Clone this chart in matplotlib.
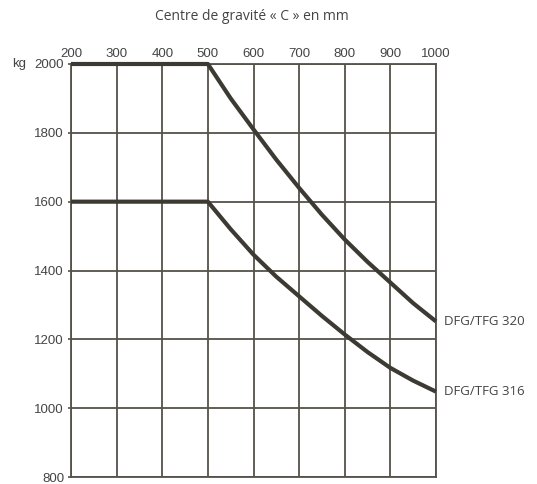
import numpy as np
import matplotlib.pyplot as plt

plt.rcParams['font.family'] = ['Liberation Sans', 'DejaVu Sans']

# Centre de gravité (mm) et capacité (kg)
x_c = [200, 500, 550, 600, 650, 700, 750, 800, 850, 900, 950, 1000]
kg_320 = [2000, 2000, 1900, 1810, 1722, 1640, 1562, 1490, 1425, 1365, 1305, 1252]
kg_316 = [1600, 1600, 1520, 1446, 1382, 1325, 1268, 1214, 1163, 1117, 1080, 1048]

x_ticks = [200, 300, 400, 500, 600, 700, 800, 900, 1000]
y_ticks = [800, 1000, 1200, 1400, 1600, 1800, 2000]

line_col = '#3d3a33'
grid_col = '#55524b'
text_col = '#444444'

fig = plt.figure(figsize=(5.37, 4.84), dpi=100)
ax = fig.add_axes([71 / 537, 1 - 477 / 484, (436 - 71) / 537, (477 - 64) / 484])

ax.plot(x_c, kg_320, color=line_col, lw=3.0, solid_capstyle='butt', clip_on=False, zorder=3)
ax.plot(x_c, kg_316, color=line_col, lw=3.0, solid_capstyle='butt', clip_on=False, zorder=3)

ax.set_xlim(200, 1000)
ax.set_ylim(800, 2000)
ax.set_xticks(x_ticks)
ax.set_yticks(y_ticks)
ax.xaxis.tick_top()
ax.tick_params(axis='x', length=0, pad=3, labelsize=9.5, labelcolor=text_col)
ax.tick_params(axis='y', length=2, width=1.2, color=grid_col, pad=3, labelsize=9.5,
               labelcolor=text_col)

ax.grid(True, color=grid_col, lw=1.3)
for sp in ax.spines.values():
    sp.set_color(grid_col)
    sp.set_linewidth(1.3)

fig.text(252 / 537, 1 - 17 / 484, 'Centre de gravité « C » en mm', ha='center', va='center',
         fontsize=10, color=text_col, family='Open Sans')
fig.text(12 / 537, 1 - 64 / 484, 'kg', ha='left', va='center', fontsize=9.5,
         color=text_col)

ax.annotate('DFG/TFG 320', xy=(1000, kg_320[-1]), xytext=(6, 0), textcoords='offset points',
            ha='left', va='center', fontsize=9.5, color=text_col, family='Open Sans',
            annotation_clip=False)
ax.annotate('DFG/TFG 316', xy=(1000, kg_316[-1]), xytext=(6, 0), textcoords='offset points',
            ha='left', va='center', fontsize=9.5, color=text_col, family='Open Sans',
            annotation_clip=False)

fig.savefig('out.png', dpi=100)
